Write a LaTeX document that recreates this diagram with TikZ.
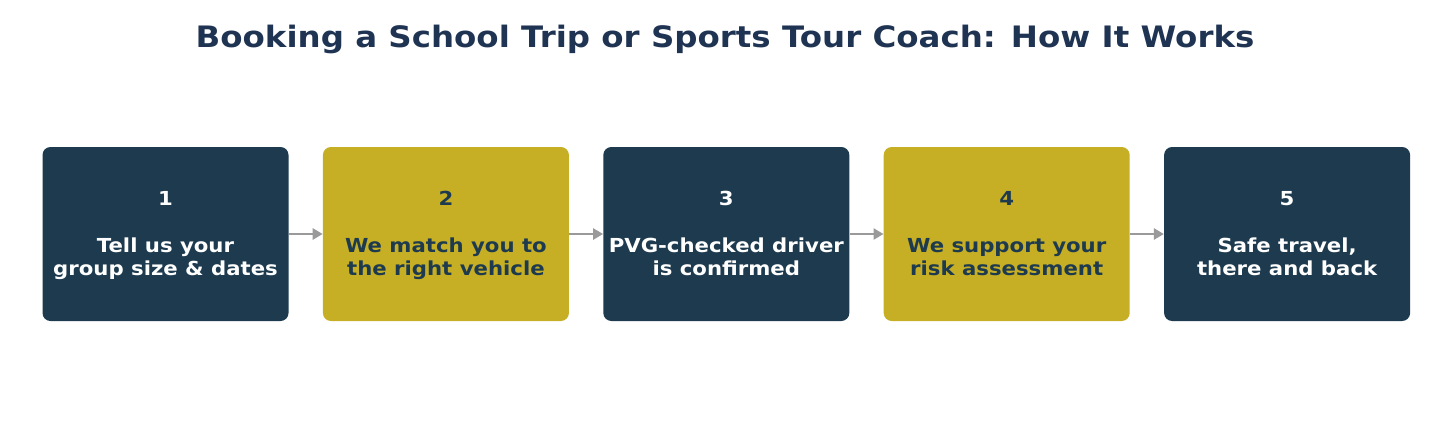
\documentclass[tikz,border=0pt]{standalone}
\usepackage{fontspec}
\setmainfont{DejaVu Sans}[FakeStretch=1.1]
\usetikzlibrary{arrows.meta, positioning}
\definecolor{navybox}{HTML}{1D3A4F}
\definecolor{goldbox}{HTML}{C6AF24}
\definecolor{titleink}{HTML}{1F3352}
\definecolor{arrowgray}{HTML}{9A9A9A}
\newcommand{\topstrut}{\rule{0pt}{19pt}}
\tikzstyle{stage}=[rounded corners=8pt, minimum width=246pt, minimum height=174pt,
  inner sep=0pt, align=center, font=\bfseries\fontsize{19.3}{23}\selectfont]
\tikzstyle{darkstage}=[stage, fill=navybox, text=white]
\tikzstyle{goldstage}=[stage, fill=goldbox, text=navybox]

\begin{document}
\begin{tikzpicture}[x=1pt, y=1pt, node distance=34pt, >={Triangle[length=10pt, width=11pt]}]
    \useasboundingbox (0,0) rectangle (1450,-421);
    \node[text=titleink, font=\bfseries\fontsize{29.5}{34}\selectfont] (title) at (725,-39)
      {Booking a School Trip or Sports Tour Coach: How It Works};

    \node[darkstage] (s1) at (165.5,-234) {\topstrut 1\\[24pt]Tell us your\\group size \& dates\strut};
    \node[goldstage] (s2) [right=of s1] {\topstrut 2\\[24pt]We match you to\\the right vehicle\strut};
    \node[darkstage] (s3) [right=of s2] {\topstrut 3\\[24pt]PVG-checked driver\\is confirmed\strut};
    \node[goldstage] (s4) [right=of s3] {\topstrut 4\\[24pt]We support your\\risk assessment\strut};
    \node[darkstage] (s5) [right=of s4] {\topstrut 5\\[24pt]Safe travel,\\there and back\strut};

    \path[->, draw=arrowgray, fill=arrowgray, line width=2.5pt]
      (s1) edge (s2)
      (s2) edge (s3)
      (s3) edge (s4)
      (s4) edge (s5);
\end{tikzpicture}
\end{document}
